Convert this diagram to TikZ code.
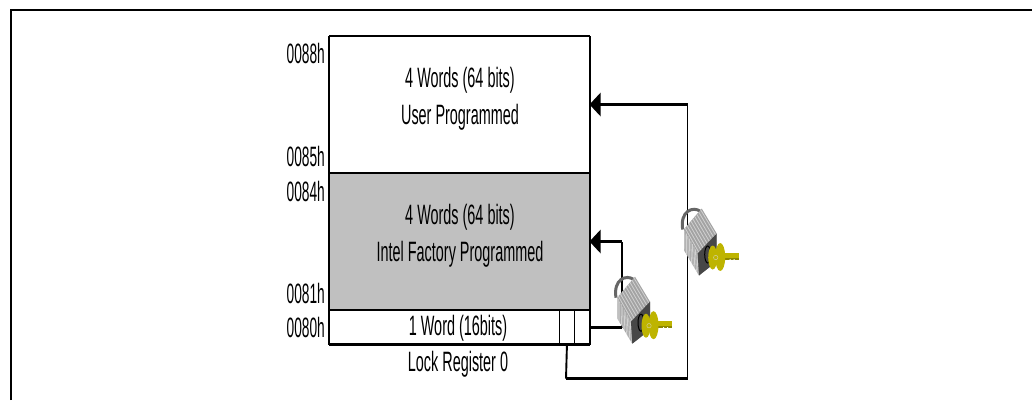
\documentclass[tikz,border=0pt]{standalone}
\usepackage{fontspec}
\usepackage{graphicx}
\setmainfont{Liberation Sans}
\usetikzlibrary{arrows.meta,calc}
\definecolor{regfill}{RGB}{192,192,192}
\definecolor{keygold}{RGB}{190,180,0}
\definecolor{keydark}{RGB}{140,135,0}
\newcommand{\lbl}[1]{\scalebox{0.515}[1]{\fontsize{28}{30}\selectfont #1}}
\newcommand{\adr}[1]{\scalebox{0.49}[1]{\fontsize{28}{30}\selectfont #1}}
\tikzset{
  padlock/.pic={
    \draw[line width=3pt,color=black!60] (-19,21) .. controls (-22,3) and (-9,-3) .. (-1,3);
    \fill[black!36] (-17.7,20.7) -- (0,0) -- (15,25) -- (15,53) -- (-2.7,67) -- (-17.7,41.7) -- cycle;
    \foreach \t in {0.06,0.17,...,0.95}{
      \draw[black!18,line width=.8pt] ($(-17.7,20.7)!\t!(0,0)$) -- ($(-4,45)!\t!(15,25)$);
      \draw[black!18,line width=.8pt] ($(-17.7,20.7)!\t!(-4,45)$) -- ($(-17.7,41.7)!\t!(-2.7,67)$);
    }
    \fill[black!72] (-4,45) -- (15,25) -- (15,53) -- (-2.7,67) -- cycle;
    \draw[black,line width=1pt] (6,46) ellipse (3 and 8.5);
    \fill[keygold] (21,44.5) rectangle (37,51.5);
    \fill[keydark] (23,49) rectangle (37,51.5);
    \fill[white] (28,50.5) rectangle (29,52) (32,50.5) rectangle (33,52);
    \fill[keygold] (11,49) ellipse (4.5 and 12);
    \fill[keygold] (18.5,48.5) ellipse (5 and 14);
    \draw[keydark!40!white,line width=.5pt] (14,49) circle (2.2);
  }
}
\begin{document}
\begin{tikzpicture}[x=1pt,y=-1pt,
  frameline/.style={line width=2.6pt},
  memline/.style={line width=2.6pt},
  sideline/.style={line width=1.3pt},
  memarea/.style={draw=none,inner sep=0pt,outer sep=0pt,anchor=north west,minimum width=261pt},
  cellbox/.style={draw=none,inner sep=0pt,outer sep=0pt,anchor=north west,minimum width=15.5pt,minimum height=34pt},
  connv/.style={line width=1.9pt},
  connh/.style={line width=2.5pt},
  feed/.style={line width=2.5pt,-{Triangle[length=11pt,width=23pt]},shorten >=-0.5pt},
  addr/.style={anchor=east,inner sep=0pt},
  memtext/.style={inner sep=0pt}]
\useasboundingbox (0,0) rectangle (1032,400);
\coordinate (fbl) at (11,400); \coordinate (ftl) at (11,10); \coordinate (ftr) at (1032,10);
\draw[frameline] (fbl) -- (ftl) -- (ftr);
\node[memarea,minimum height=137pt] (user) at (329,36) {};
\node[memarea,minimum height=137pt,fill=regfill] (factory) at (329,173) {};
\node[memarea,minimum height=34pt] (reg) at (329,310.5) {};
\node[cellbox] (cellA) at (559.2,310.5) {};
\node[cellbox] (cellB) at (574.7,310.5) {};
\draw[memline] (user.north west) -- (user.north east);
\draw[memline] (user.south west) -- (user.south east);
\draw[memline] (factory.south west) -- (factory.south east);
\draw[memline] (reg.south west) -- (reg.south east);
\draw[sideline] (user.north west) -- (reg.south west);
\draw[sideline] (user.north east) -- (reg.south east);
\draw[sideline] (cellA.north west) -- (cellA.south west);
\draw[sideline] (cellB.north west) -- (cellB.south west);
\node[addr] (a88) at (325,53) {\adr{0088h}};
\node[addr] (a85) at (325,156.5) {\adr{0085h}};
\node[addr] (a84) at (325,191) {\adr{0084h}};
\node[addr] (a81) at (325,293.5) {\adr{0081h}};
\node[addr] (a80) at (325,327) {\adr{0080h}};
\node[memtext] (t1) at (460,80) {\lbl{4 Words (64 bits)}};
\node[memtext] (t2) at (460,117) {\lbl{User Programmed}};
\node[memtext] (t3) at (460,217) {\lbl{4 Words (64 bits)}};
\node[memtext] (t4) at (460,254) {\lbl{Intel Factory Programmed}};
\node[memtext] (t5) at (458,328) {\lbl{1 Word (16bits)}};
\node[memtext] (t6) at (458,364) {\lbl{Lock Register 0}};
\coordinate (c1) at (566,378.6);
\coordinate (c2) at (687.5,378.6);
\coordinate (c3) at (622,327.5);
\coordinate (c4) at (687.5,104.5);
\coordinate (c5) at (622,241.5);
\draw[connv] (cellA.south) -- (c1);
\draw[connh,line cap=square] (c1) -- (c2);
\draw[connv] (c2) -- (c4);
\draw[feed] (c4) -- (user.east);
\draw[connh] (cellB.east) -- (c3);
\draw[connv] (c3) -- (c5);
\draw[feed] (c5) -- (factory.east);
\pic at (635,276.7) {padlock};
\pic at (701.7,208.5) {padlock};
\end{tikzpicture}
\end{document}
